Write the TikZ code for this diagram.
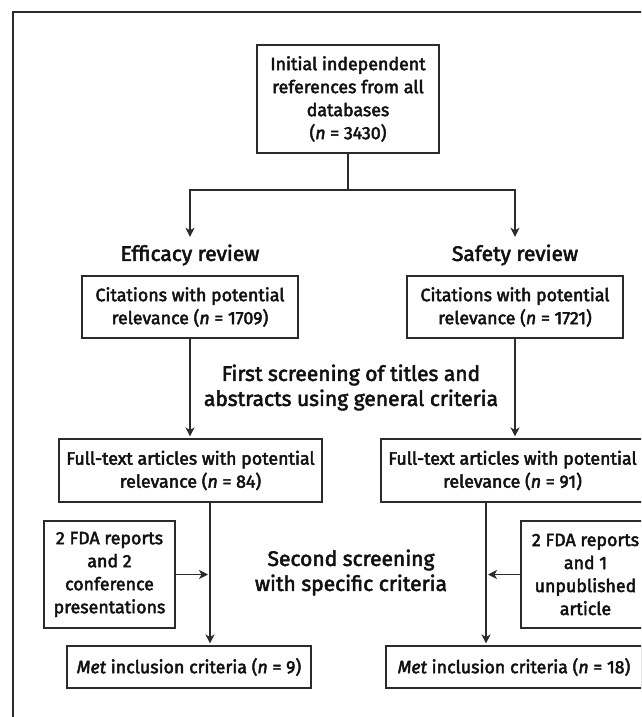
\documentclass[tikz,border=0pt]{standalone}
\usepackage{fontspec}
\setmainfont{Fira Sans}[UprightFeatures={FakeBold=2.6}, ItalicFeatures={FakeBold=2.6}]
\usetikzlibrary{arrows.meta,calc}
\definecolor{linec}{HTML}{2B2B2B}
\definecolor{textc}{HTML}{111111}
\begin{document}
\begin{tikzpicture}[x=1pt,y=-1pt,
  box/.style={draw=linec, line width=1.1pt, rectangle, inner sep=0pt, align=center, text=textc,
              font=\fontsize{17.8}{23}\selectfont},
  lbl/.style={inner sep=0pt, align=center, text=textc, font=\fontsize{21}{25}\selectfont},
  conn/.style={draw=linec, line width=1.1pt},
  arr/.style={conn, -{Stealth[length=9pt,width=9pt,inset=2.5pt]}, shorten >=2pt}]
\useasboundingbox (0,0) rectangle (641,717);
\clip (0,0) rectangle (641,717);
% frame
\draw[conn] (13,730) -- (13,12) -- (660,12);

\node[box, minimum width=182, minimum height=108] (top) at (348,99)
  {Initial independent\\references from all\\databases\\(\textit{n} = 3430)};
\coordinate (split) at (348,190);

\node[lbl, minimum height=32] (eff) at (190,255) {Efficacy review};
\node[lbl, minimum height=32] (saf) at (515,255) {Safety review};

\node[box, minimum width=216, minimum height=62] (cit1) at (190,307)
  {Citations with potential\\relevance (\textit{n} = 1709)};
\node[box, minimum width=216, minimum height=62] (cit2) at (515,307)
  {Citations with potential\\relevance (\textit{n} = 1721)};

\node[lbl] (first) at (351,387.5) {First screening of titles and\\abstracts using general criteria};

\node[box, minimum width=263, minimum height=63] (ft1) at (190.5,470.5)
  {Full-text articles with potential\\relevance (\textit{n} = 84)};
\node[box, minimum width=263, minimum height=63] (ft2) at (512.5,470.5)
  {Full-text articles with potential\\relevance (\textit{n} = 91)};

\node[box, minimum width=131, minimum height=107] (fda1) at (109.5,574.5)
  {2 FDA reports\\and 2\\conference\\presentations};
\node[box, minimum width=129, minimum height=107] (fda2) at (585.5,574.5)
  {2 FDA reports\\and 1\\unpublished\\article};

\node[lbl] (second) at (351,572.5) {Second screening\\with specific criteria};

\node[box, minimum width=244, minimum height=42] (met1) at (189,667)
  {\textit{Met} inclusion criteria (\textit{n} = 9)};
\node[box, minimum width=256, minimum height=42] (met2) at (514,667)
  {\textit{Met} inclusion criteria (\textit{n} = 18)};

\coordinate (v1) at (210,502);
\coordinate (v2) at (486,502);

% connectors
\draw[conn] (top.south) -- (split);
\draw[arr] (split) -| (eff.north);
\draw[arr] (split) -| (saf.north);
\draw[arr] (cit1.south) -- (cit1.south |- ft1.north);
\draw[arr] (cit2.south) -- (cit2.south |- ft2.north);
\draw[arr] (v1) -- (v1 |- met1.north);
\draw[arr] (v2) -- (v2 |- met2.north);
\draw[arr] (fda1.east) -- (fda1.east -| v1);
\draw[arr] (fda2.west) -- (fda2.west -| v2);
\end{tikzpicture}
\end{document}
